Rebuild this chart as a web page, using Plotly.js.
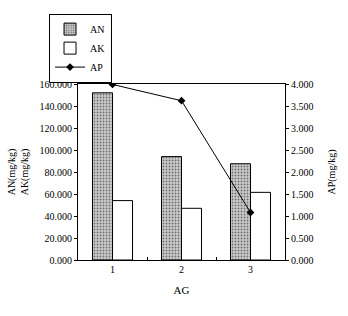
<!DOCTYPE html>
<html><head><meta charset="utf-8">
<script src="https://cdn.plot.ly/plotly-3.0.1.min.js"></script>
<style>html,body{margin:0;padding:0;background:#fff}#chart{width:348px;height:316px}</style>
</head><body><div id="chart"></div>
<script>
const categories = ["1", "2", "3"];
const AN = [152.0, 94.0, 87.5];
const AK = [54.0, 47.0, 61.5];
const AP = [3.99, 3.62, 1.08];
const leftTicks = [0, 20, 40, 60, 80, 100, 120, 140, 160];
const rightTicks = [0, 0.5, 1, 1.5, 2, 2.5, 3, 3.5, 4];

const serif = "Liberation Serif, Times New Roman, serif";
const traces = [
  {type: "bar", name: "AN", x: categories, y: AN,
   marker: {color: "#c8c8c8", line: {color: "#000", width: 1},
            pattern: {shape: ".", fgcolor: "#707070", bgcolor: "#cccccc", size: 3, solidity: 0.3}}},
  {type: "bar", name: "AK", x: categories, y: AK,
   marker: {color: "#ffffff", line: {color: "#000", width: 1}}},
  {type: "scatter", mode: "lines+markers", name: "AP", x: categories, y: AP, yaxis: "y2",
   line: {color: "#000", width: 1}, marker: {symbol: "diamond", size: 6, color: "#000"}}
];
const layout = {
  width: 348, height: 316,
  margin: {l: 78, r: 63, t: 84, b: 56},
  paper_bgcolor: "#fff", plot_bgcolor: "#fff",
  font: {family: serif, size: 10, color: "#000"},
  barmode: "group", bargap: 0.42, bargroupgap: 0,
  showlegend: true,
  legend: {x: -0.14, y: 1.40, xanchor: "left", yanchor: "top",
           bordercolor: "#000", borderwidth: 1, bgcolor: "#fff",
           font: {family: serif, size: 10}, traceorder: "normal", itemwidth: 30},
  xaxis: {type: "category", showline: true, linecolor: "#000", linewidth: 1, mirror: true,
          ticks: "inside", tickson: "boundaries", ticklen: 3, tickcolor: "#000",
          showgrid: false, zeroline: false,
          tickfont: {family: serif, size: 10},
          title: {text: "AG", font: {family: serif, size: 11}, standoff: 12}},
  yaxis: {range: [0, 160], tickvals: leftTicks, tickformat: ".3f",
          showline: true, linecolor: "#000", linewidth: 1, mirror: false,
          ticks: "outside", ticklen: 3, tickcolor: "#000", showgrid: false, zeroline: false,
          tickfont: {family: serif, size: 10},
          title: {text: "AN(mg/kg)<br>AK(mg/kg)", font: {family: serif, size: 10}, standoff: 9}},
  yaxis2: {range: [0, 4], tickvals: rightTicks, tickformat: ".3f", overlaying: "y", side: "right",
           showline: true, linecolor: "#000", linewidth: 1,
           ticks: "outside", ticklen: 3, tickcolor: "#000", showgrid: false, zeroline: false,
           tickfont: {family: serif, size: 10},
           title: {text: "AP(mg/kg)", font: {family: serif, size: 10}, standoff: 15}}
};
Plotly.newPlot("chart", traces, layout, {displayModeBar: false, staticPlot: true});
</script>
</body></html>
